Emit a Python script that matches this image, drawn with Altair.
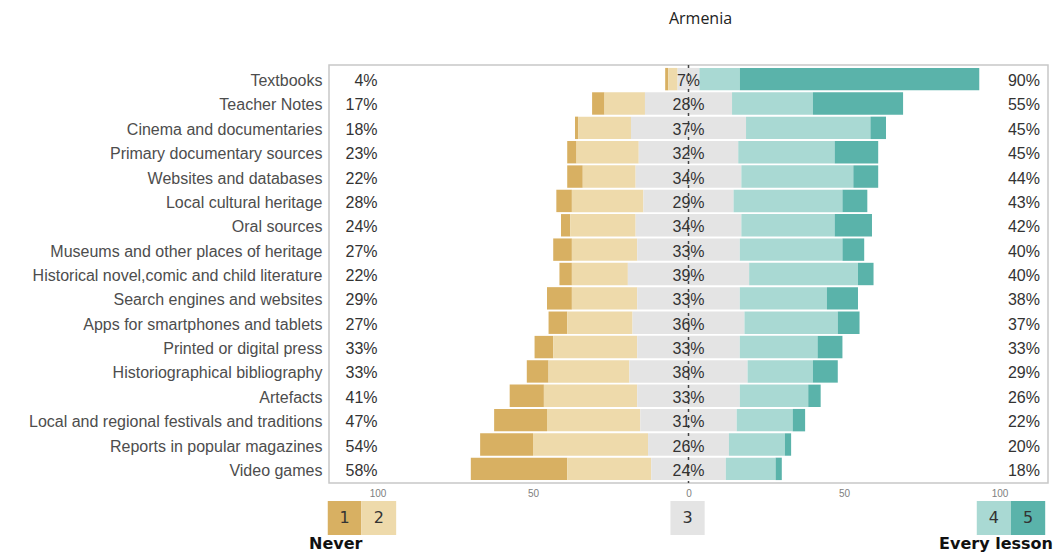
import altair as alt
import pandas as pd

categories = [
    "Textbooks", "Teacher Notes", "Cinema and documentaries", "Primary documentary sources",
    "Websites and databases", "Local cultural heritage", "Oral sources",
    "Museums and other places of heritage", "Historical novel,comic and child literature",
    "Search engines and websites", "Apps for smartphones and tablets", "Printed or digital press",
    "Historiographical bibliography", "Artefacts", "Local and regional festivals and traditions",
    "Reports in popular magazines", "Video games",
]
p1 = [1, 4, 1, 3, 5, 5, 3, 6, 4, 8, 6, 6, 7, 11, 17, 17, 31]
p2 = [3, 13, 17, 20, 17, 23, 21, 21, 18, 21, 21, 27, 26, 30, 30, 37, 27]
p3 = [7, 28, 37, 32, 34, 29, 34, 33, 39, 33, 36, 33, 38, 33, 31, 26, 24]
p4 = [13, 26, 40, 31, 36, 35, 30, 33, 35, 28, 30, 25, 21, 22, 18, 18, 16]
p5 = [77, 29, 5, 14, 8, 8, 12, 7, 5, 10, 7, 8, 8, 4, 4, 2, 2]

levels = ["1", "2", "3", "4", "5"]
colors = ["#D8B062", "#EEDAAB", "#E4E4E4", "#A9D9D3", "#5AB3AA"]
tick_values = [-100, -50, 0, 50, 100]

# long table of segments (diverging, neutral centred on 0)
rows = []
for i, c in enumerate(categories):
    h = p3[i] / 2
    segs = [
        ("1", -(h + p2[i] + p1[i]), -(h + p2[i])),
        ("2", -(h + p2[i]), -h),
        ("3", -h, h),
        ("4", h, h + p4[i]),
        ("5", h + p4[i], h + p4[i] + p5[i]),
    ]
    for lev, a, b in segs:
        rows.append({"category": c, "level": lev, "x0": a, "x1": b})
bars_df = pd.DataFrame(rows)

lab_df = pd.DataFrame({
    "category": categories,
    "low": [f"{a + b}%" for a, b in zip(p1, p2)],
    "mid": [f"{n}%" for n in p3],
    "high": [f"{a + b}%" for a, b in zip(p4, p5)],
})

legend_df = pd.DataFrame({
    "level": levels,
    "lx0": [-116.0, -105.2, -5.8, 92.7, 103.7],
    "lx1": [-105.2, -94.0, 5.2, 103.7, 114.7],
})
legend_df["lxm"] = (legend_df["lx0"] + legend_df["lx1"]) / 2

ends_df = pd.DataFrame({"label": ["Never", "Every lesson"], "lx": [-122.0, 117.2]})

xscale = alt.Scale(domain=[-115.6, 115.6], nice=False, zero=False)
color = alt.Color("level:N", scale=alt.Scale(domain=levels, range=colors), legend=None)
yenc = alt.Y(
    "category:N", sort=categories,
    scale=alt.Scale(paddingInner=0.08, paddingOuter=0.12),
    axis=alt.Axis(title=None, labelFontSize=16, labelFont="Liberation Sans", labelColor="#4d4d4d",
                  ticks=False, domain=False, labelPadding=7, labelLimit=400, labelOffset=2),
)

bars = alt.Chart(bars_df).mark_bar().encode(
    x=alt.X("x0:Q", scale=xscale,
            axis=alt.Axis(values=tick_values, labelExpr="abs(datum.value)", title=None, ticks=False,
                          domain=False, grid=False, labelFontSize=10, labelColor="#808080",
                          labelPadding=5, labelFont="Liberation Sans")),
    x2="x1:Q",
    y=yenc,
    color=color,
)

zero = alt.Chart(pd.DataFrame({"z": [0]})).mark_rule(
    color="#444444", strokeDash=[3, 5], strokeWidth=1.5
).encode(x=alt.X("z:Q", scale=xscale))

txt_style = dict(font="Liberation Sans", fontSize=16, color="#333333", baseline="middle", dy=2)
mid_txt = alt.Chart(lab_df).mark_text(align="center", **txt_style).encode(
    x=alt.datum(0), y=alt.Y("category:N", sort=categories), text="mid:N")
low_txt = alt.Chart(lab_df).mark_text(align="right", **txt_style).encode(
    x=alt.datum(-100), y=alt.Y("category:N", sort=categories), text="low:N")
high_txt = alt.Chart(lab_df).mark_text(align="right", **txt_style).encode(
    x=alt.datum(113), y=alt.Y("category:N", sort=categories), text="high:N")

leg_rect = alt.Chart(legend_df).mark_rect().encode(
    x=alt.X("lx0:Q", scale=xscale), x2="lx1:Q",
    y=alt.value(436), y2=alt.value(470), color=color)
leg_txt = alt.Chart(legend_df).mark_text(font="DejaVu Sans", fontSize=16, color="#333333",
                                         baseline="middle").encode(
    x=alt.X("lxm:Q", scale=xscale), y=alt.value(453), text="level:N")
never_txt = alt.Chart(ends_df.iloc[[0]]).mark_text(
    font="DejaVu Sans", fontSize=16, fontWeight="bold", color="#111111", baseline="middle",
    align="left").encode(x=alt.X("lx:Q", scale=xscale), y=alt.value(479), text="label:N")
every_txt = alt.Chart(ends_df.iloc[[1]]).mark_text(
    font="DejaVu Sans", fontSize=16, fontWeight="bold", color="#111111", baseline="middle",
    align="right").encode(x=alt.X("lx:Q", scale=xscale), y=alt.value(479), text="label:N")

chart = alt.layer(bars, zero, mid_txt, low_txt, high_txt, leg_rect, leg_txt,
                  never_txt, every_txt).properties(
    width=719, height=418,
    title=alt.Title("Armenia", font="Open Sans", fontSize=16, fontWeight="normal", color="#222222",
                    anchor="middle", dx=12, offset=37),
    autosize=alt.AutoSizeParams(type="none"),
    padding={"left": 321, "top": 57, "right": 6, "bottom": 69},
).configure_view(stroke="#c8c8c8", strokeWidth=1.5)

chart.save("out.html", embed_options={"renderer": "svg", "actions": False})
